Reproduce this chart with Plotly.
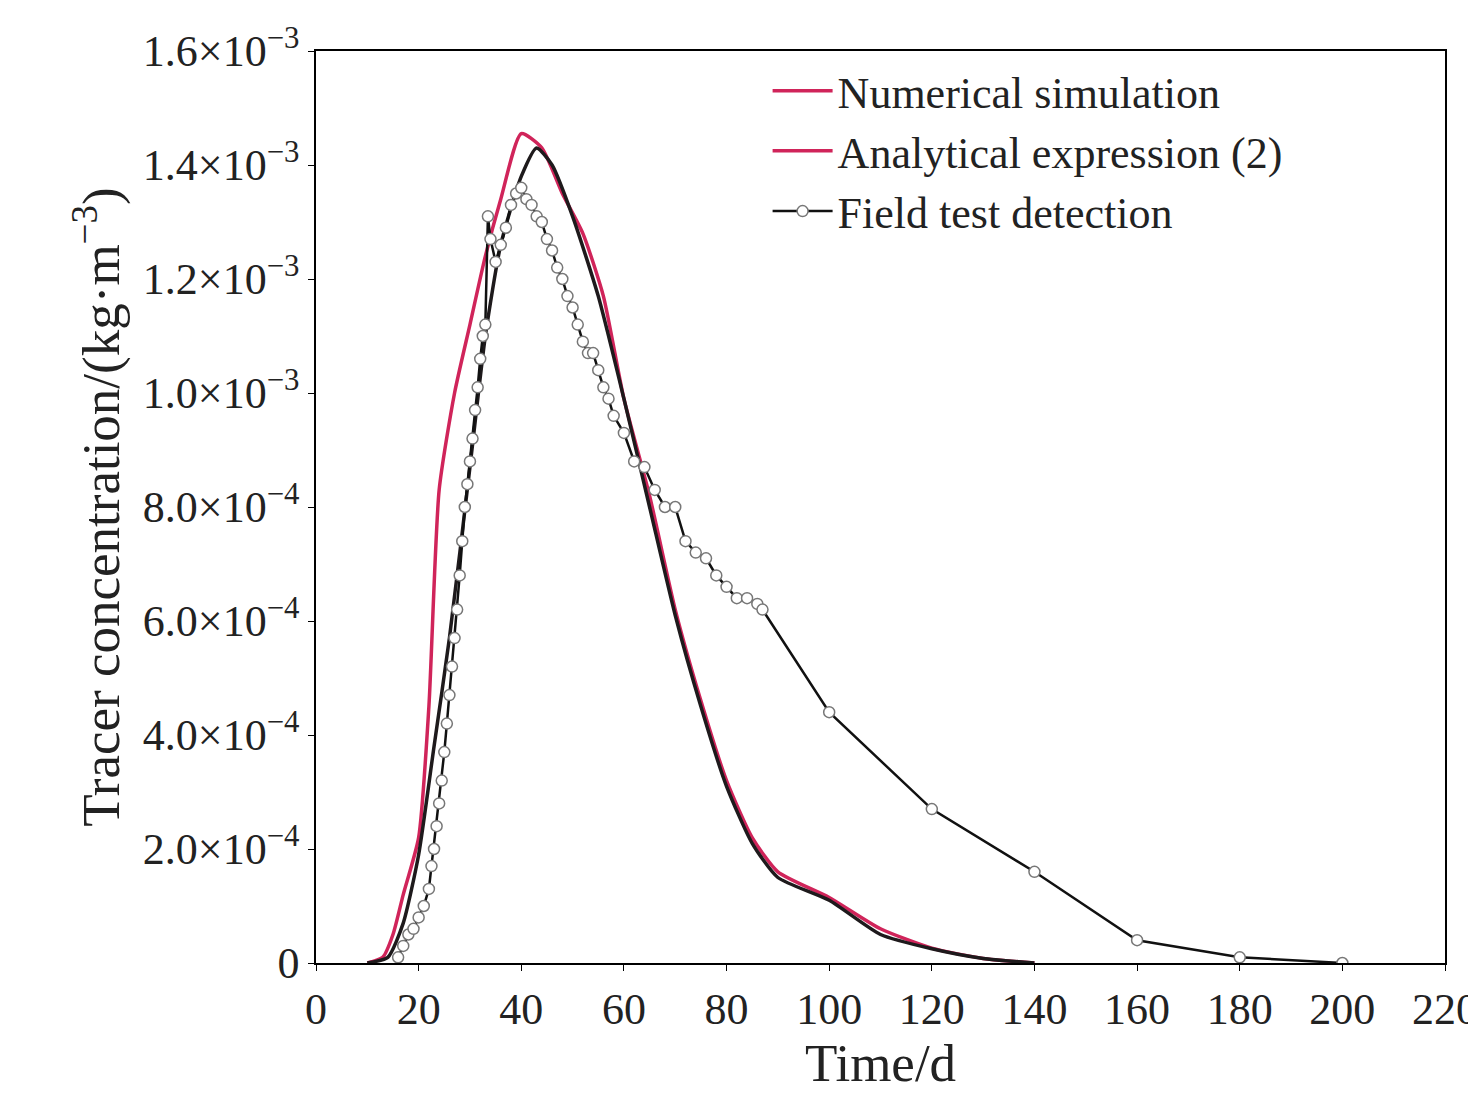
import plotly.graph_objects as go

# Numerical simulation (red)
num_t = [10, 13, 15, 17, 20, 22, 24, 27, 30, 33, 36, 40, 44, 48, 52, 56, 60, 65, 70, 75,
         80, 85, 90, 100, 110, 120, 130, 140]
num_c = [0, 0.00001, 0.00005, 0.00012, 0.00022, 0.00045, 0.00083, 0.00100, 0.00112, 0.00124,
         0.00134, 0.001455, 0.00143, 0.00135, 0.00128, 0.00117, 0.00099, 0.00082, 0.00062,
         0.00046, 0.00032, 0.00022, 0.00016, 0.000115, 0.00006, 0.000026, 0.000008, 0]

# Analytical expression (2) (dark curve)
ana_t = [10, 14, 17, 20, 23, 26, 30, 33, 36, 40, 43, 46, 50, 55, 60, 65, 70, 75, 80, 85,
         90, 100, 110, 120, 130, 140]
ana_c = [0, 0.00001, 0.00007, 0.00019, 0.00038, 0.00057, 0.00087, 0.00110, 0.00126, 0.00138,
         0.00143, 0.00140, 0.00131, 0.00117, 0.00099, 0.00080, 0.00061, 0.00045, 0.00031,
         0.00021, 0.00015, 0.00011, 0.00005, 0.000025, 0.000008, 0]

# Field test detection
fld_t = [16, 17, 18, 19, 20, 21, 22, 22.5, 23, 23.5, 24, 24.5, 25, 25.5, 26, 26.5, 27, 27.5,
         28, 28.5, 29, 29.5, 30, 30.5, 31, 31.5, 32, 32.5, 33, 33.5, 34, 35, 36, 37, 38, 39,
         40, 41, 42, 43, 44, 45, 46, 47, 48, 49, 50, 51, 52, 53, 54, 55, 56, 57, 58, 60, 62,
         64, 66, 68, 70, 72, 74, 76, 78, 80, 82, 84, 86, 87, 100, 120, 140, 160, 180, 200]
fld_c = [0.00001, 0.00003, 0.00005, 0.00006, 0.00008, 0.0001, 0.00013, 0.00017, 0.0002,
         0.00024, 0.00028, 0.00032, 0.00037, 0.00042, 0.00047, 0.00052, 0.00057, 0.00062,
         0.00068, 0.00074, 0.0008, 0.00084, 0.00088, 0.00092, 0.00097, 0.00101, 0.00106,
         0.0011, 0.00112, 0.00131, 0.00127, 0.00123, 0.00126, 0.00129, 0.00133, 0.00135,
         0.00136, 0.00134, 0.00133, 0.00131, 0.0013, 0.00127, 0.00125, 0.00122, 0.0012,
         0.00117, 0.00115, 0.00112, 0.00109, 0.00107, 0.00107, 0.00104, 0.00101, 0.00099,
         0.00096, 0.00093, 0.00088, 0.00087, 0.00083, 0.0008, 0.0008, 0.00074, 0.00072,
         0.00071, 0.00068, 0.00066, 0.00064, 0.00064, 0.00063, 0.00062, 0.00044, 0.00027,
         0.00016, 0.00004, 0.00001, 0]

y_ticks = [0, 0.0002, 0.0004, 0.0006, 0.0008, 0.001, 0.0012, 0.0014, 0.0016]
y_labels = ["0", "2.0×10<sup>−4</sup>", "4.0×10<sup>−4</sup>", "6.0×10<sup>−4</sup>",
            "8.0×10<sup>−4</sup>", "1.0×10<sup>−3</sup>", "1.2×10<sup>−3</sup>",
            "1.4×10<sup>−3</sup>", "1.6×10<sup>−3</sup>"]

RED = "#d0245a"

fig = go.Figure()
fig.add_trace(go.Scatter(x=num_t, y=num_c, mode="lines", name="Numerical simulation",
                         line=dict(color=RED, width=3.5, shape="spline", smoothing=0.6)))
fig.add_trace(go.Scatter(x=ana_t, y=ana_c, mode="lines", showlegend=False,
                         line=dict(color="#1e1a1c", width=3.5, shape="spline", smoothing=0.6)))
fig.add_trace(go.Scatter(x=[None], y=[None], mode="lines", name="Analytical expression (2)",
                         line=dict(color=RED, width=3.5)))
fig.add_trace(go.Scatter(x=fld_t, y=fld_c, mode="lines+markers", name="Field test detection",
                         line=dict(color="#111111", width=2.5),
                         marker=dict(symbol="circle", size=11, color="white",
                                     line=dict(color="#777777", width=1.5))))

axis_common = dict(showline=True, linecolor="black", linewidth=1.5, mirror=True,
                   ticks="outside", ticklen=6, tickcolor="black", showgrid=False,
                   zeroline=False, automargin=False, tickfont=dict(size=44))

fig.update_layout(
    width=1476, height=1096,
    paper_bgcolor="white", plot_bgcolor="white",
    font=dict(family="Liberation Serif, Times New Roman, serif", size=44, color="#222222"),
    margin=dict(l=308, r=39, t=43, b=141),
    xaxis=dict(range=[0, 220], dtick=20, title=dict(text="Time/d", standoff=8),
               **axis_common),
    yaxis=dict(range=[0, 0.0016], tickvals=y_ticks, ticktext=y_labels,
               title=dict(text="Tracer concentration/(kg·m<sup>−3</sup>)", standoff=6),
               **axis_common),
    legend=dict(x=0.4, y=0.995, xanchor="left", yanchor="top", bgcolor="rgba(0,0,0,0)",
                font=dict(size=44), itemwidth=60, tracegroupgap=0),
)

fig.write_html("out.html")
